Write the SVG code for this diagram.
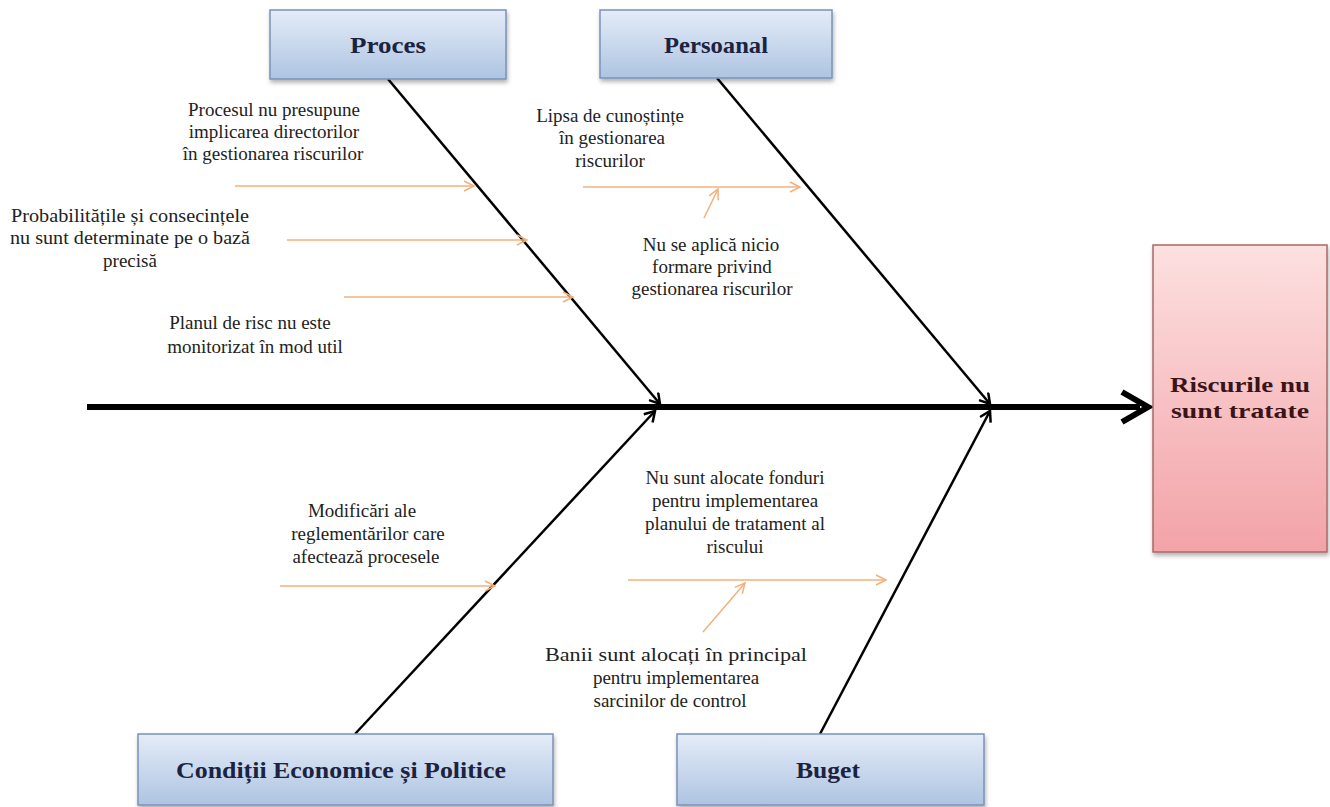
<svg xmlns="http://www.w3.org/2000/svg" width="1330" height="807" viewBox="0 0 1330 807">
<defs>
<linearGradient id="gBlue" x1="0" y1="0" x2="0" y2="1">
<stop offset="0" stop-color="#e4ecf8"/>
<stop offset="1" stop-color="#aec4e2"/>
</linearGradient>
<linearGradient id="gPink" x1="0" y1="0" x2="0" y2="1">
<stop offset="0" stop-color="#fde0e0"/>
<stop offset="1" stop-color="#f2a3a8"/>
</linearGradient>
<filter id="sh" x="-10%" y="-10%" width="130%" height="140%">
<feDropShadow dx="1" dy="3" stdDeviation="2" flood-color="#000" flood-opacity="0.3"/>
</filter>
<marker id="ab" markerWidth="14" markerHeight="14" refX="12" refY="7" orient="auto" markerUnits="userSpaceOnUse">
<path d="M2,1 L12,7 L2,13" fill="none" stroke="#000" stroke-width="2.5"/>
</marker>
<marker id="ao" markerWidth="14" markerHeight="14" refX="12" refY="7" orient="auto" markerUnits="userSpaceOnUse">
<path d="M2,2 L12,7 L2,12" fill="none" stroke="#f4b07a" stroke-width="1.5"/>
</marker>
</defs>
<style>
.box{fill:url(#gBlue);stroke:#7892b8;stroke-width:1.5;filter:url(#sh)}
.res{fill:url(#gPink);stroke:#a86a6a;stroke-width:1.5;filter:url(#sh)}
.hd{font-family:"Liberation Serif","Times New Roman","DejaVu Serif",serif;font-weight:bold;font-size:23px;fill:#1c2340;text-anchor:middle}
.hr{font-family:"Liberation Serif","Times New Roman","DejaVu Serif",serif;font-weight:bold;font-size:22px;fill:#3a1418;text-anchor:middle}
.t{font-family:"Liberation Serif","Times New Roman","DejaVu Serif",serif;font-size:19px;fill:#222;text-anchor:middle}
.bone{stroke:#000;stroke-width:2.5;fill:none;marker-end:url(#ab)}
.or{stroke:#f4b07a;stroke-width:1.5;fill:none;marker-end:url(#ao)}
</style>

<g id="connectors">
<line x1="87" y1="407" x2="1140" y2="407" stroke="#000" stroke-width="6"/>
<path d="M1122,392 L1148,407 L1122,422" fill="none" stroke="#000" stroke-width="6" stroke-linejoin="miter"/>
<line class="bone" x1="388" y1="79" x2="660" y2="404"/>
<line class="bone" x1="717" y1="78" x2="990" y2="404"/>
<line class="bone" x1="355" y1="734" x2="655" y2="411"/>
<line class="bone" x1="820" y1="734" x2="990" y2="411"/>
<line class="or" x1="235" y1="186" x2="474" y2="186"/>
<line class="or" x1="287" y1="240" x2="527" y2="240"/>
<line class="or" x1="344" y1="297" x2="573" y2="297"/>
<line class="or" x1="583" y1="187" x2="800" y2="187"/>
<line class="or" x1="704" y1="218" x2="718" y2="189"/>
<line class="or" x1="280" y1="586" x2="495" y2="586"/>
<line class="or" x1="628" y1="580" x2="886" y2="580"/>
<line class="or" x1="703" y1="632" x2="745" y2="583"/>
</g>

<g id="node-proces">
<rect class="box" x="270" y="10" width="236" height="69"/>
<text class="hd" x="388" y="53" textLength="76" lengthAdjust="spacingAndGlyphs">Proces</text>
</g>
<g id="node-personal">
<rect class="box" x="600" y="10" width="232" height="68"/>
<text class="hd" x="716" y="53" textLength="104" lengthAdjust="spacingAndGlyphs">Persoanal</text>
</g>
<g id="node-conditii">
<rect class="box" x="138" y="734" width="415" height="71"/>
<text class="hd" x="341" y="778" textLength="330" lengthAdjust="spacingAndGlyphs">Condiții Economice și Politice</text>
</g>
<g id="node-buget">
<rect class="box" x="677" y="734" width="307" height="71"/>
<text class="hd" x="828" y="778" textLength="64" lengthAdjust="spacingAndGlyphs">Buget</text>
</g>
<g id="node-result">
<rect class="res" x="1153" y="245" width="174" height="307"/>
<text class="hr" x="1240" y="392" textLength="140" lengthAdjust="spacingAndGlyphs">Riscurile nu</text>
<text class="hr" x="1240" y="418" textLength="138" lengthAdjust="spacingAndGlyphs">sunt tratate</text>
</g>

<g id="cause-1">
<text class="t" x="274" y="116">Procesul nu presupune</text>
<text class="t" x="274" y="138">implicarea directorilor</text>
<text class="t" x="273" y="160">în gestionarea riscurilor</text>
</g>
<g id="cause-2">
<text class="t" x="130" y="222" textLength="238" lengthAdjust="spacingAndGlyphs">Probabilitățile și consecințele</text>
<text class="t" x="130" y="244" textLength="240" lengthAdjust="spacingAndGlyphs">nu sunt determinate pe o bază</text>
<text class="t" x="130" y="267">precisă</text>
</g>
<g id="cause-3">
<text class="t" x="250" y="329">Planul de risc nu este</text>
<text class="t" x="255" y="353">monitorizat în mod util</text>
</g>
<g id="cause-4">
<text class="t" x="610" y="122">Lipsa de cunoștințe</text>
<text class="t" x="612" y="144">în gestionarea</text>
<text class="t" x="610" y="167">riscurilor</text>
</g>
<g id="cause-5">
<text class="t" x="711" y="251">Nu se aplică nicio</text>
<text class="t" x="712" y="273">formare privind</text>
<text class="t" x="712" y="295">gestionarea riscurilor</text>
</g>
<g id="cause-6">
<text class="t" x="362" y="517">Modificări ale</text>
<text class="t" x="368" y="540">reglementărilor care</text>
<text class="t" x="366" y="563">afectează procesele</text>
</g>
<g id="cause-7">
<text class="t" x="735" y="484">Nu sunt alocate fonduri</text>
<text class="t" x="735" y="507">pentru implementarea</text>
<text class="t" x="735" y="530">planului de tratament al</text>
<text class="t" x="735" y="553">riscului</text>
</g>
<g id="cause-8">
<text class="t" x="676" y="661" textLength="262" lengthAdjust="spacingAndGlyphs">Banii sunt alocați în principal</text>
<text class="t" x="676" y="684">pentru implementarea</text>
<text class="t" x="670" y="707">sarcinilor de control</text>
</g>
</svg>
